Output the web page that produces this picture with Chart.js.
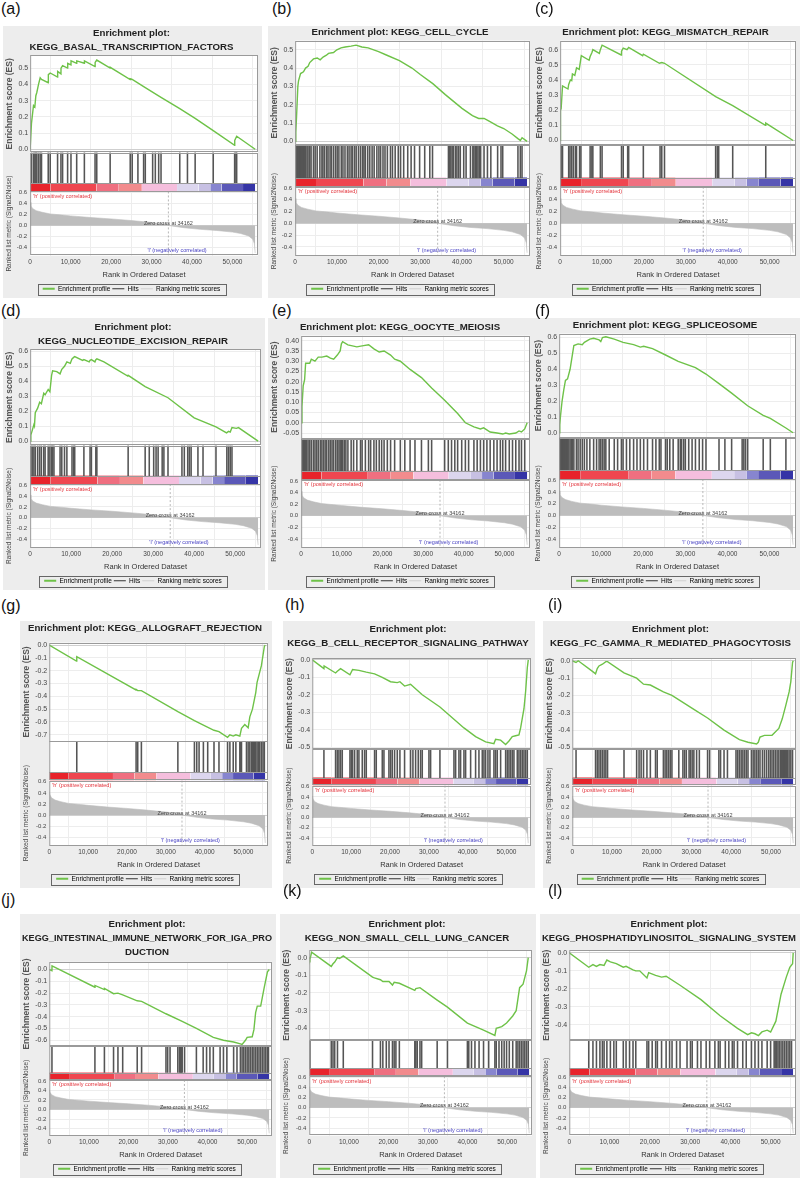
<!DOCTYPE html>
<html>
<head>
<meta charset="utf-8">
<script src="https://cdn.jsdelivr.net/npm/chart.js@4.4.0/dist/chart.umd.min.js"></script>
<style>
  body { margin: 0; width: 800px; height: 1180px; background: #fff; position: relative; overflow: hidden;
         font-family: "Liberation Sans", Arial, sans-serif; }
  .box { position: absolute; background: #ededed; }
  .lab { position: absolute; font-size: 16px; line-height: 16px; color: #111; }
  canvas { position: absolute; }
</style>
</head>
<body>
<script>
// ---- data ----
const panelLabels = ['(a)', '(b)', '(c)', '(d)', '(e)', '(f)', '(g)', '(h)', '(i)', '(j)', '(k)', '(l)'];
const panelTitles = [
  ['Enrichment plot:', 'KEGG_BASAL_TRANSCRIPTION_FACTORS'],
  'Enrichment plot: KEGG_CELL_CYCLE',
  'Enrichment plot: KEGG_MISMATCH_REPAIR',
  ['Enrichment plot:', 'KEGG_NUCLEOTIDE_EXCISION_REPAIR'],
  'Enrichment plot: KEGG_OOCYTE_MEIOSIS',
  'Enrichment plot: KEGG_SPLICEOSOME',
  'Enrichment plot: KEGG_ALLOGRAFT_REJECTION',
  ['Enrichment plot:', 'KEGG_B_CELL_RECEPTOR_SIGNALING_PATHWAY'],
  ['Enrichment plot:', 'KEGG_FC_GAMMA_R_MEDIATED_PHAGOCYTOSIS'],
  ['Enrichment plot:', 'KEGG_INTESTINAL_IMMUNE_NETWORK_FOR_IGA_PRO', 'DUCTION'],
  ['Enrichment plot:', 'KEGG_NON_SMALL_CELL_LUNG_CANCER'],
  ['Enrichment plot:', 'KEGG_PHOSPHATIDYLINOSITOL_SIGNALING_SYSTEM']
];

// running enrichment score, [rank, ES]
const es_a = [[0,0],[330,0.16],[830,0.27],[1160,0.26],[1410,0.33],[1650,0.35],[2070,0.40],[2480,0.44],[2810,0.43],[4470,0.41],[4500,0.46],[4960,0.47],[6780,0.445],[6800,0.48],[7610,0.465],[7630,0.50],[8020,0.515],[9260,0.50],[9280,0.53],[10090,0.52],[10110,0.545],[11500,0.53],[11520,0.545],[13400,0.53],[13420,0.545],[16040,0.51],[16060,0.535],[16460,0.55],[19770,0.50],[19790,0.505],[24730,0.43],[24750,0.435],[25220,0.43],[28450,0.38],[32340,0.32],[36970,0.25],[40770,0.19],[45240,0.115],[50530,0.025],[50550,0.055],[51030,0.08],[55600,0]];
const es_b = [[0,0],[160,0.05],[330,0.13],[650,0.30],[810,0.33],[1300,0.37],[2000,0.38],[2500,0.40],[3100,0.41],[3500,0.43],[4400,0.45],[5300,0.455],[6000,0.445],[6700,0.46],[7500,0.47],[8000,0.48],[9200,0.485],[10000,0.50],[11000,0.51],[12000,0.515],[13400,0.52],[14600,0.525],[16000,0.515],[17500,0.51],[20000,0.49],[22000,0.47],[25000,0.44],[28000,0.40],[30000,0.365],[33000,0.315],[36000,0.255],[40000,0.18],[42500,0.14],[44000,0.125],[45300,0.125],[46500,0.11],[48500,0.085],[50000,0.07],[52000,0.04],[53400,0.015],[54000,0.005],[54400,0.02],[55600,0]];
const es_c = [[0,0],[80,0.20],[240,0.21],[570,0.36],[1870,0.34],[2040,0.37],[2440,0.40],[2770,0.395],[2930,0.44],[3500,0.43],[3910,0.48],[4560,0.47],[5050,0.56],[6920,0.53],[7160,0.555],[7570,0.58],[7810,0.60],[9360,0.575],[9600,0.60],[10010,0.63],[14570,0.565],[14650,0.59],[15060,0.61],[15960,0.60],[16360,0.615],[19700,0.56],[19860,0.57],[23700,0.51],[24260,0.515],[24910,0.51],[37120,0.29],[41190,0.23],[49000,0.10],[49080,0.115],[55600,0]];
const es_d = [[0,0],[170,0.04],[500,0.07],[910,0.11],[1050,0.10],[1250,0.19],[1830,0.22],[2320,0.26],[2740,0.25],[3320,0.32],[3650,0.31],[4400,0.345],[4810,0.33],[5230,0.44],[5480,0.47],[6500,0.465],[7300,0.45],[7720,0.48],[8380,0.50],[8960,0.53],[9800,0.52],[10210,0.55],[10620,0.56],[10870,0.565],[12800,0.54],[13110,0.545],[14400,0.53],[14610,0.54],[14940,0.545],[15800,0.53],[16020,0.545],[16270,0.55],[18000,0.53],[23800,0.435],[23900,0.44],[28050,0.365],[33620,0.29],[40000,0.155],[45320,0.095],[47900,0.055],[48390,0.065],[48800,0.06],[49220,0.09],[50300,0.085],[50800,0.09],[55600,0]];
const es_e = [[0,0],[200,0.08],[500,0.18],[850,0.21],[1100,0.29],[2100,0.29],[2500,0.31],[3400,0.30],[4200,0.32],[5100,0.32],[6300,0.325],[7200,0.315],[8000,0.31],[8900,0.33],[9600,0.35],[9900,0.385],[10200,0.395],[11500,0.38],[13700,0.37],[15000,0.375],[16600,0.38],[17900,0.36],[19200,0.345],[20400,0.35],[22000,0.33],[23000,0.31],[24400,0.30],[26800,0.26],[29600,0.22],[32100,0.17],[35300,0.11],[38500,0.045],[40400,0.0],[42500,-0.02],[44100,-0.03],[44900,-0.025],[46500,-0.045],[48200,-0.05],[49600,-0.055],[50300,-0.05],[51200,-0.055],[52800,-0.05],[53600,-0.04],[54200,-0.045],[55000,-0.03],[55600,0]];
const es_f = [[0,0],[150,0.05],[300,0.10],[700,0.20],[1100,0.27],[1500,0.33],[2000,0.34],[2600,0.40],[2900,0.45],[3200,0.50],[3500,0.55],[4500,0.56],[5500,0.555],[6000,0.57],[7300,0.59],[8200,0.595],[9500,0.585],[9900,0.575],[10300,0.60],[11100,0.605],[13100,0.59],[15200,0.57],[17700,0.555],[19300,0.54],[20100,0.545],[22200,0.53],[25300,0.49],[28300,0.45],[32400,0.41],[34900,0.37],[38000,0.31],[41000,0.25],[44800,0.17],[48500,0.11],[50200,0.09],[53900,0.03],[55600,0]];
const es_g = [[0,0],[7000,-0.125],[7080,-0.09],[22300,-0.35],[22350,-0.345],[22770,-0.355],[23710,-0.355],[33100,-0.52],[37360,-0.59],[39670,-0.625],[42400,-0.665],[43680,-0.675],[45890,-0.72],[46490,-0.70],[47350,-0.71],[48030,-0.70],[49050,-0.71],[49480,-0.65],[50330,-0.62],[51190,-0.645],[51620,-0.56],[52300,-0.50],[53150,-0.37],[53490,-0.29],[54600,-0.16],[55360,-0.01],[55600,0]];
const es_h = [[0,0],[3000,-0.05],[3050,-0.035],[6000,-0.075],[6440,-0.065],[7290,-0.05],[9700,-0.085],[10380,-0.055],[12010,-0.06],[13900,-0.07],[16040,-0.08],[18020,-0.10],[20160,-0.125],[21880,-0.13],[22560,-0.125],[23760,-0.15],[25300,-0.14],[28310,-0.20],[32860,-0.27],[36470,-0.34],[39040,-0.39],[42040,-0.44],[44620,-0.47],[46760,-0.48],[47190,-0.455],[48480,-0.46],[49770,-0.485],[50630,-0.465],[51480,-0.44],[52340,-0.435],[53200,-0.43],[53630,-0.39],[54490,-0.28],[54920,-0.18],[55350,-0.045],[55600,0]];
const es_i = [[0,0],[950,-0.01],[1500,0.0],[5000,-0.06],[5860,-0.075],[6290,-0.045],[6720,-0.03],[7590,-0.02],[8450,-0.005],[8880,-0.005],[13020,-0.07],[16200,-0.10],[17930,-0.135],[19650,-0.14],[22930,-0.18],[25080,-0.20],[27840,-0.24],[30600,-0.28],[34050,-0.33],[38190,-0.40],[42060,-0.455],[44220,-0.47],[46380,-0.48],[46810,-0.47],[47240,-0.44],[48360,-0.43],[50260,-0.43],[51980,-0.39],[52840,-0.335],[53700,-0.26],[54570,-0.18],[55000,-0.12],[55430,-0.01],[55600,0]];
const es_j = [[0,0],[680,-0.01],[700,0.03],[11540,-0.15],[11560,-0.135],[13940,-0.17],[13960,-0.16],[16250,-0.205],[17360,-0.20],[18560,-0.215],[22230,-0.265],[23340,-0.27],[29500,-0.375],[33600,-0.44],[37190,-0.50],[41470,-0.575],[44030,-0.60],[46600,-0.615],[48310,-0.63],[48740,-0.635],[49590,-0.60],[50020,-0.575],[51300,-0.57],[51730,-0.51],[52160,-0.365],[52580,-0.31],[53440,-0.31],[54290,-0.16],[55150,-0.02],[55600,0]];
const es_k = [[0,0],[170,-0.01],[600,0.03],[5560,-0.05],[6000,-0.035],[6430,-0.025],[7130,0.0],[7600,-0.005],[8000,0.0],[8600,0.01],[15990,-0.11],[16470,-0.115],[17990,-0.125],[18600,-0.135],[20160,-0.135],[21030,-0.155],[21460,-0.14],[22770,-0.145],[26680,-0.185],[26940,-0.175],[27980,-0.17],[32330,-0.24],[34930,-0.28],[39970,-0.37],[44050,-0.41],[46920,-0.44],[47260,-0.40],[48650,-0.39],[49870,-0.37],[51430,-0.33],[52300,-0.30],[53170,-0.17],[54040,-0.15],[54910,-0.075],[55350,0]];
const es_l = [[0,0],[4840,-0.08],[5880,-0.065],[6750,-0.075],[7610,-0.065],[8650,-0.07],[9340,-0.04],[10210,-0.05],[11680,-0.06],[13410,-0.08],[14100,-0.075],[15830,-0.095],[16520,-0.10],[17500,-0.10],[19290,-0.14],[19720,-0.11],[21450,-0.125],[22920,-0.135],[24050,-0.13],[27510,-0.18],[32700,-0.26],[37460,-0.35],[41780,-0.42],[44300,-0.455],[45240,-0.445],[46110,-0.45],[46970,-0.46],[47840,-0.44],[49140,-0.43],[50000,-0.44],[51300,-0.38],[52590,-0.23],[53890,-0.135],[54760,-0.08],[55450,-0.06],[55600,0]];

// gene set members along the ranked list
const hits_a = [330,830,1160,1410,1650,2070,2480,2810,4470,4960,6780,7610,8020,9260,10090,11500,13400,16040,16460,19770,24730,25220,26630,28040,28450,30270,30930,31760,32340,36970,38870,40770,45240,50530,50860,51030];
const hits_b = [160,330,490,650,810,980,1140,1300,1540,1790,2030,2280,2520,2850,3090,3500,3820,4390,4800,5280,5930,6420,6670,7070,7560,7890,8370,8700,9190,9670,10080,10490,11060,11460,11950,12520,12930,13410,13740,14230,14630,15200,15690,16180,16500,16830,17400,17890,18450,18940,19590,20080,20490,21060,21540,22110,22850,23330,23980,24720,25280,26020,26990,27800,28620,29840,31060,32280,32930,36750,36990,37320,37640,37970,38450,38780,39190,39590,40410,40980,42030,42600,42850,43170,43500,43820,44150,44470,45280,46100,46910,48540,49350,49760,53410,53980,54390];
const hits_c = [240,570,2040,2360,2770,3170,3660,3910,4640,4960,7160,7570,7810,9600,10010,14650,15060,16120,16360,19860,23850,24260,24910,37120,37530,37850,41190,49080];
const hits_d = [170,500,910,1250,1830,2320,2740,3320,3650,4400,4810,5230,5480,5810,7300,7720,8380,8960,10210,10620,10870,13110,14610,14940,16020,16270,23900,28050,29050,30130,30710,31210,32200,32620,33620,37020,37600,38430,38840,39260,40920,42160,45320,47970,48390,48800,49220];
const hits_e = [200,350,500,700,850,1100,1350,1700,2100,2500,3000,3400,3800,4200,4700,5100,5500,5900,6300,6800,7200,7600,8000,8500,8900,9300,9600,9900,10200,10600,11000,11500,12300,12900,13700,14600,15000,15800,16600,17100,17900,18500,19200,19800,20400,21200,22000,23000,24400,25500,26800,28000,29600,31300,32100,35300,36200,37000,37800,38500,39500,40400,41200,42500,43300,44100,44900,45700,46500,47400,48200,49000,49600,50300,51200,52000,52800,53600,54200,55000];
const hits_f = [150,300,450,600,750,900,1100,1300,1500,1700,2000,2300,2600,2900,3200,3500,4100,4500,5000,5500,6000,6600,7300,8200,8900,9500,9900,10300,10700,11100,11900,13100,13900,14800,15200,16000,16800,17700,18500,19300,20100,21000,22200,23000,23800,24200,25300,25700,26300,27100,28300,28800,29100,29600,30000,30800,31600,32400,33300,34100,34900,38000,39400,41000,43500,43900,44300,44800,48500,50200,53900];
const hits_g = [7080,22350,22770,23710,33100,37360,37960,38560,39670,40780,42400,43680,45890,46490,47350,48030,49050,49310,49480,50760,51190,51620,52040,52300,52640,52890,53150,53490,53830,54170,54600,55020,55360];
const hits_h = [3000,6000,6440,6860,7290,7720,9700,10040,10380,10900,11580,12010,12870,13470,13900,16040,16470,18020,18450,19730,20160,20590,21190,21880,22560,23760,25300,25910,26600,27280,27880,28310,30030,30460,32860,36470,36900,37750,38180,39040,39470,40760,42040,42900,43760,44190,44620,45220,45730,46760,47190,47620,48480,49770,50200,50630,51050,51480,51910,52770,53200,53630,54060,54490,54920,55350];
const hits_i = [950,5860,6290,6720,7160,7590,8020,8450,8880,13020,16200,16810,17330,17930,18790,19650,20950,21380,22930,23360,23790,24220,24650,25080,26810,27840,28270,28700,29390,29740,30170,30600,31290,31980,34050,34570,36890,37320,38190,39050,41200,41630,42060,42500,42930,43360,43790,44220,45080,45520,45950,46380,46810,47240,47850,48360,48880,49400,49830,50260,50690,51120,51550,51980,52410,52670,52930,53190,53450,53700,53960,54220,54570,55000,55430];
const hits_j = [680,11540,13940,16250,17360,18560,22230,23340,29500,29930,30530,32490,32920,33180,33350,33600,34200,37190,38900,39760,40610,41470,43180,44030,44890,46600,47450,48310,48740,49170,49590,50020,50450,50870,51300,51730,52160,52580,53010,53440,53870,54290,54720,55150,55400];
const hits_k = [170,5560,6000,6430,7130,8600,15990,17990,18600,19470,20160,21030,21460,21900,22770,26680,26940,27290,27980,28410,32330,34930,39970,40320,41010,41880,42920,44050,45350,46920,47260,47960,48650,49260,49870,50560,51430,52300,52740,53170,53610,54040,54480,54910,55350];
const hits_l = [4840,5880,6750,7610,8220,8650,9340,10210,11070,11680,13410,14100,14970,15830,16520,19290,19720,20590,21450,21880,22920,24050,24910,25520,26640,27510,29240,30100,30530,31830,32700,33990,34860,36160,37020,37460,38750,39620,40480,40920,41780,43080,43940,45240,46110,46970,47840,49140,50000,50870,51130,51470,51820,52160,52590,53030,53460,53890,54330,54760,55190];

// ES axis range and tick step per panel
const esMin  = [-0.02, -0.02, -0.03, -0.03, -0.077, -0.03, -0.75, -0.512, -0.51, -0.65, -0.467, -0.486];
const esMax  = [0.58, 0.55, 0.66, 0.615, 0.425, 0.625, 0.02, 0.01, 0.015, 0.066, 0.042, 0.015];
const esStep = [0.1, 0.1, 0.1, 0.1, 0.05, 0.1, 0.1, 0.1, 0.1, 0.1, 0.1, 0.1];

// ranked list metric (same list for every panel)
const rankX      = [0, 200, 600, 1500, 3000, 5000, 8000, 10000, 15000, 20000, 25000, 30000, 34000, 34162, 38000, 42000, 46000, 50000, 52000, 54000, 55000, 55400, 55600];
const rankMetric = [0.42, 0.36, 0.31, 0.27, 0.24, 0.21, 0.19, 0.175, 0.145, 0.12, 0.09, 0.055, 0.02, 0.0, -0.04, -0.07, -0.09, -0.12, -0.145, -0.19, -0.25, -0.33, -0.5];
const rankTicks  = [0.6, 0.4, 0.2, 0.0, -0.2, -0.4];
const xTicks     = [0, 10000, 20000, 30000, 40000, 50000];
const zeroCross  = 34162;
const xMax       = 56300;

// heat map bar under the hits
const bandEdges  = [0, 5000, 16400, 21900, 27600, 36300, 41600, 44500, 47300, 52600, 55600];
const bandColors = ['#e8232b', '#ef4650', '#ef6f80', '#f28b8d', '#f5bedd', '#dcd6ee', '#c7c0e3', '#8785cf', '#5b58b8', '#3534a6'];

const legendNames  = ['Enrichment profile', 'Hits', 'Ranking metric scores'];
const legendColors = ['#6ec248', '#333333', '#d0d0d0'];

const esCurves = [es_a, es_b, es_c, es_d, es_e, es_f, es_g, es_h, es_i, es_j, es_k, es_l];
const hitLists = [hits_a, hits_b, hits_c, hits_d, hits_e, hits_f, hits_g, hits_h, hits_i, hits_j, hits_k, hits_l];

// ---- layout (page pixels) ----
const boxRects = [
  [3, 26, 259, 272], [268, 26, 266, 272], [533, 26, 267, 272],
  [3, 318, 262, 272], [268, 318, 266, 272], [532, 318, 268, 272],
  [20, 621, 252, 267], [283, 621, 252, 267], [543, 621, 257, 267],
  [20, 914, 256, 264], [280, 914, 256, 264], [540, 914, 260, 264]
];
const canvasRects = boxRects.map((r, i) => i === 9 ? [0, 914, 290, 264] : r);
const canvasPadLR = boxRects.map((r, i) => i === 9 ? [20, 18] : [0, 4]);
const titleTop    = [1, 0, 0, 3, 3, 1, 1, 2, 2, 4, 4, 4];
const titleGap    = [1, 1, 1, 1, 1, 1, 7, 8, 8, 3, 5, 5];
const labelPos = [[1, 1], [272, 1], [535, 1], [1, 303], [272, 303], [535, 303],
                  [1, 598], [285, 597], [548, 597], [1, 892], [283, 883], [548, 883]];

const hitBase = 0.22;

Chart.defaults.font.family = '"Liberation Sans", Arial, sans-serif';
Chart.defaults.color = '#444';

// white plot areas, panel frames, rank annotations, legend frame
const gseaDecor = {
  id: 'gseaDecor',
  beforeDraw(chart) {
    const a = chart.chartArea, ctx = chart.ctx;
    ctx.save();
    ctx.fillStyle = '#ffffff';
    ctx.fillRect(a.left, a.top, a.right - a.left, a.bottom - a.top);
    ctx.restore();
  },
  afterDatasetsDraw(chart) {
    const a = chart.chartArea, ctx = chart.ctx, s = chart.scales;
    const yr = s.yRank, yh = s.yHits;
    ctx.save();
    // zero cross
    const zx = s.x.getPixelForValue(zeroCross);
    ctx.strokeStyle = '#9a9a9a';
    ctx.lineWidth = 0.7;
    ctx.setLineDash([2, 2]);
    ctx.beginPath(); ctx.moveTo(zx, yr.top); ctx.lineTo(zx, yr.bottom); ctx.stroke();
    ctx.setLineDash([]);
    ctx.font = '5.5px "Liberation Sans", Arial, sans-serif';
    ctx.textBaseline = 'middle';
    ctx.fillStyle = '#444';
    ctx.textAlign = 'center';
    ctx.fillText('Zero cross at ' + zeroCross, zx, yr.getPixelForValue(0) - 2);
    ctx.fillStyle = '#e3323a';
    ctx.textAlign = 'left';
    ctx.fillText("'h' (positively correlated)", a.left + 3, yr.top + 5);
    ctx.fillStyle = '#4a44c4';
    ctx.textAlign = 'center';
    ctx.fillText("'l' (negatively correlated)", s.x.getPixelForValue(36300), yr.bottom - 5);
    // frames
    ctx.strokeStyle = '#9a9a9a';
    ctx.lineWidth = 1;
    ['yES', 'yHits', 'yRank'].forEach(id => {
      const sc = s[id];
      ctx.strokeRect(a.left + 0.5, Math.round(sc.top) + 0.5, a.right - a.left - 1, Math.round(sc.bottom - sc.top) - 1);
    });
    const cy = Math.round(yh.getPixelForValue(hitBase)) + 0.5;
    ctx.beginPath(); ctx.moveTo(a.left, cy); ctx.lineTo(a.right, cy); ctx.stroke();
    ctx.restore();
  },
  afterDraw(chart) {
    const lg = chart.legend;
    if (!lg || !lg.legendHitBoxes.length) return;
    const hb = lg.legendHitBoxes;
    const l = Math.min(...hb.map(b => b.left)) - 5;
    const r = Math.max(...hb.map(b => b.left + b.width)) + 5;
    const t = Math.min(...hb.map(b => b.top)) - 2;
    const btm = Math.max(...hb.map(b => b.top + b.height)) + 2;
    const ctx = chart.ctx;
    ctx.save();
    ctx.strokeStyle = '#666';
    ctx.lineWidth = 1;
    ctx.strokeRect(Math.round(l) + 0.5, Math.round(t) + 0.5, Math.round(r - l), Math.round(btm - t));
    ctx.restore();
  }
};

function buildPanel(i) {
  const [bx, by, bw, bh] = boxRects[i];
  const box = document.createElement('div');
  box.className = 'box';
  box.style.cssText = 'left:' + bx + 'px;top:' + by + 'px;width:' + bw + 'px;height:' + bh + 'px';
  document.body.appendChild(box);

  const lab = document.createElement('div');
  lab.className = 'lab';
  lab.style.left = labelPos[i][0] + 'px';
  lab.style.top = labelPos[i][1] + 'px';
  lab.textContent = panelLabels[i];
  document.body.appendChild(lab);

  const [cx, cy, cw, ch] = canvasRects[i];
  const cv = document.createElement('canvas');
  cv.width = cw; cv.height = ch;
  cv.style.left = cx + 'px'; cv.style.top = cy + 'px';
  document.body.appendChild(cv);

  const datasets = [];
  datasets.push({
    type: 'line', label: legendNames[0], yAxisID: 'yES',
    data: esCurves[i].map(p => ({ x: p[0], y: p[1] })),
    borderColor: legendColors[0], borderWidth: 1.4, pointRadius: 0, tension: 0, fill: false
  });
  datasets.push({
    type: 'bar', label: legendNames[1], yAxisID: 'yHits',
    data: hitLists[i].map(r => ({ x: r, y: [hitBase, 1] })),
    backgroundColor: '#555555', borderWidth: 0, barThickness: 0.9
  });
  bandColors.forEach((c, k) => {
    datasets.push({
      type: 'line', label: 'band' + k, yAxisID: 'yHits',
      data: [{ x: bandEdges[k], y: hitBase }, { x: bandEdges[k + 1], y: hitBase }],
      borderColor: 'rgba(0,0,0,0)', borderWidth: 1, backgroundColor: c,
      pointRadius: 0, fill: { value: 0 }
    });
  });
  datasets.push({
    type: 'line', label: legendNames[2], yAxisID: 'yRank',
    data: rankX.map((x, k) => ({ x: x, y: rankMetric[k] })),
    borderColor: '#bdbdbd', borderWidth: 0.6, backgroundColor: '#bdbdbd',
    pointRadius: 0, tension: 0, fill: 'origin'
  });

  const step = esStep[i];
  const esTickBuilder = sc => {
    const t = [];
    for (let k = Math.ceil(esMin[i] / step - 1e-6); k * step <= esMax[i] + 1e-9; k++) {
      t.push({ value: Math.round(k * step * 1000) / 1000 });
    }
    sc.ticks = t;
  };

  new Chart(cv, {
    type: 'line',
    data: { datasets: datasets },
    options: {
      responsive: false,
      animation: false,
      events: [],
      layout: { padding: { left: canvasPadLR[i][0] + 2, right: canvasPadLR[i][1], top: 0, bottom: -4 } },
      plugins: {
        title: {
          display: true, text: panelTitles[i], color: '#222',
          font: { size: 9.7, weight: 'bold', lineHeight: 1.4 }, padding: { top: titleTop[i], bottom: titleGap[i] }
        },
        legend: {
          position: 'bottom',
          labels: {
            usePointStyle: true, pointStyleWidth: 12, boxHeight: 6, padding: 2,
            font: { size: 6.5 }, color: '#333',
            generateLabels: () => legendNames.map((t, k) => ({
              text: t, fillStyle: legendColors[k], strokeStyle: legendColors[k],
              lineWidth: k === 0 ? 2 : 1.2, pointStyle: 'line', hidden: false, datasetIndex: k
            }))
          }
        },
        tooltip: { enabled: false }
      },
      scales: {
        x: {
          type: 'linear', min: 0, max: xMax, offset: false,
          afterBuildTicks: sc => { sc.ticks = xTicks.map(v => ({ value: v })); },
          ticks: { autoSkip: false, font: { size: 6.5 }, padding: 3, maxRotation: 0,
                   callback: v => v.toLocaleString('en-US') },
          grid: { color: '#ededed', drawTicks: false },
          border: { display: false },
          title: { display: true, text: 'Rank in Ordered Dataset', font: { size: 7.5 }, color: '#333', padding: { top: 1, bottom: 4 } }
        },
        yRank: {
          type: 'linear', position: 'left', stack: 'gsea', stackWeight: 66, min: -0.55, max: 0.62,
          afterBuildTicks: sc => { sc.ticks = rankTicks.map(v => ({ value: v })); },
          ticks: { autoSkip: false, font: { size: 6 }, padding: 3, callback: v => v.toFixed(1) },
          grid: { color: c => (c.tick && c.tick.value === 0) ? '#d0d0d0' : '#ededed', drawTicks: false },
          border: { display: false },
          title: { display: true, text: 'Ranked list metric (Signal2Noise)', font: { size: 6.5 }, color: '#444', padding: { top: 0, bottom: 1 } }
        },
        yHits: {
          type: 'linear', position: 'left', stack: 'gsea', stackWeight: 40, min: 0, max: 1,
          ticks: { display: false }, grid: { display: false }, border: { display: false }
        },
        yES: {
          type: 'linear', position: 'left', stack: 'gsea', stackWeight: 100, min: esMin[i], max: esMax[i],
          afterBuildTicks: esTickBuilder,
          ticks: { autoSkip: false, font: { size: 7 }, padding: 2,
                   callback: v => v.toFixed(step < 0.1 ? 2 : 1) },
          grid: { color: c => (c.tick && Math.abs(c.tick.value) < 1e-9) ? '#cfcfcf' : '#ededed', drawTicks: false },
          border: { display: false },
          title: { display: true, text: 'Enrichment score (ES)', font: { size: 8.5, weight: 'bold' }, color: '#555', padding: { top: 0, bottom: 1 } }
        }
      }
    },
    plugins: [gseaDecor]
  });
}

for (let i = 0; i < panelLabels.length; i++) buildPanel(i);
</script>
</body>
</html>
